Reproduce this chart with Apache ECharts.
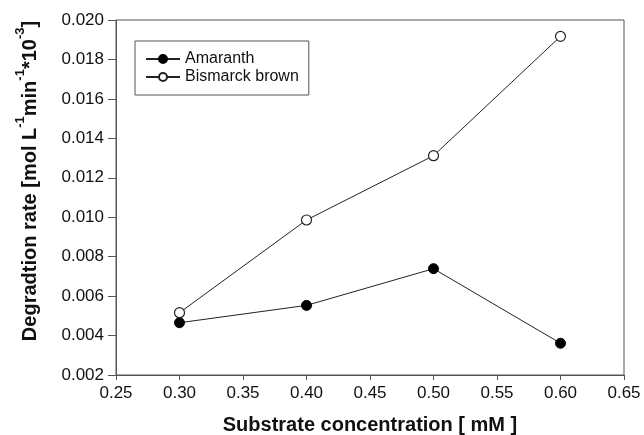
<!DOCTYPE html>
<html><head><meta charset="utf-8">
<script src="https://cdn.jsdelivr.net/npm/echarts@6/dist/echarts.min.js"></script>
<style>html,body{margin:0;padding:0;background:#fff}#c{width:644px;height:435px}</style>
</head><body><div id="c"></div>
<script>
const concentrations = [0.30, 0.40, 0.50, 0.60];
const amaranth = [0.00465, 0.00553, 0.00739, 0.00361];
const bismarck = [0.00516, 0.00986, 0.01312, 0.01917];
const seriesNames = ['Amaranth', 'Bismarck brown'];
const xTitle = 'Substrate concentration [ mM ]';

const font = 'Liberation Sans, Arial, sans-serif';
const chart = echarts.init(document.getElementById('c'));
chart.setOption({
  animation: false,
  grid: { left: 116, right: 20, top: 20, bottom: 60, containLabel: false, outerBoundsMode: 'none',
          show: true, borderColor: '#555', borderWidth: 1 },
  legend: {
    orient: 'vertical', left: 135, top: 41,
    padding: [10, 10, 10, 10], itemGap: 2, itemWidth: 34, itemHeight: 10,
    borderColor: '#555', borderWidth: 1,
    textStyle: { fontFamily: font, fontSize: 16, color: '#111' },
    data: seriesNames
  },
  graphic: [{
    type: 'text', x: 27, y: 181, rotation: Math.PI / 2,
    style: {
      text: '{t|Degradtion rate [mol L}{s|-1}{t|min}{s|-1}{t|*10}{s|-3}{t|]}',
      align: 'center', verticalAlign: 'middle',
      rich: {
        t: { fontFamily: font, fontSize: 20, fontWeight: 'bold', fill: '#111', verticalAlign: 'bottom', lineHeight: 26 },
        s: { fontFamily: font, fontSize: 13, fontWeight: 'bold', fill: '#111', verticalAlign: 'top', lineHeight: 26 }
      }
    }
  }],
  xAxis: {
    type: 'value', min: 0.25, max: 0.65, interval: 0.05,
    name: xTitle, nameLocation: 'middle', nameGap: 40,
    nameTextStyle: { fontFamily: font, fontSize: 20, fontWeight: 'bold', color: '#111' },
    axisLine: { lineStyle: { color: '#555', width: 1 } },
    axisTick: { inside: false, length: 5, lineStyle: { color: '#555' } },
    axisLabel: { fontFamily: font, fontSize: 17, color: '#111', margin: 10, formatter: v => v.toFixed(2) },
    splitLine: { show: false }
  },
  yAxis: {
    type: 'value', min: 0.002, max: 0.020, interval: 0.002,
    axisLine: { show: true, lineStyle: { color: '#555', width: 1 } },
    axisTick: { show: true, inside: false, length: 8, lineStyle: { color: '#555' } },
    axisLabel: { fontFamily: font, fontSize: 17, color: '#111', margin: 12, formatter: v => v.toFixed(3) },
    splitLine: { show: false }
  },
  series: [
    {
      name: seriesNames[0], type: 'line',
      data: concentrations.map((x, i) => [x, amaranth[i]]),
      symbol: 'circle', symbolSize: 10,
      lineStyle: { color: '#222', width: 1 },
      itemStyle: { color: '#000', borderColor: '#000', borderWidth: 1 }
    },
    {
      name: seriesNames[1], type: 'line',
      data: concentrations.map((x, i) => [x, bismarck[i]]),
      symbol: 'circle', symbolSize: 10,
      lineStyle: { color: '#222', width: 1 },
      itemStyle: { color: '#fff', borderColor: '#222', borderWidth: 1.2 }
    }
  ]
});
</script></body></html>
